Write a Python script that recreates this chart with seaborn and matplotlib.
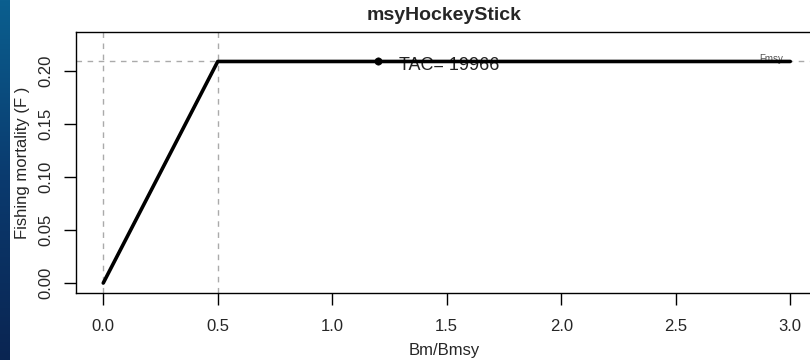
import numpy as np
import pandas as pd
import matplotlib
matplotlib.use("Agg")
import matplotlib.pyplot as plt
import seaborn as sns
from matplotlib.colors import LinearSegmentedColormap

# Data
bm_ratio = [0.0, 0.5, 3.0]
fishing_f = [0.0, 0.209, 0.209]
fmsy = 0.209
blim = 0.5
tac_point_x = [1.2]
tac_point_y = [0.209]
tac_label = "TAC= 19966"
xticks = [0.0, 0.5, 1.0, 1.5, 2.0, 2.5, 3.0]
yticks = [0.00, 0.05, 0.10, 0.15, 0.20]

sns.set_theme(style="white")
plt.rcParams['font.family'] = ['Liberation Sans', 'DejaVu Sans']

fig = plt.figure(figsize=(8.1, 3.6), dpi=100)
fig.patch.set_facecolor("white")

# Blue slide strip on left
bg = fig.add_axes([0, 0, 10/810, 1])
grad = np.linspace(0, 1, 256).reshape(-1, 1)
cmap = LinearSegmentedColormap.from_list("b", ["#0b5f8f", "#0a3a6e", "#0a2552"])
bg.imshow(grad, aspect="auto", cmap=cmap, extent=[0, 1, 0, 1])
bg.axis("off")

ax = fig.add_axes([76/810, 1 - 293/360, 736/810, (293 - 32)/360])
ax.set_facecolor("white")

df = pd.DataFrame({"x": bm_ratio, "F": fishing_f})
ax.axhline(fmsy, color="#aaaaaa", lw=1, ls=(0, (4, 4)), zorder=1)
ax.axvline(0.0, color="#aaaaaa", lw=1, ls=(0, (4, 4)), zorder=1)
ax.axvline(blim, color="#aaaaaa", lw=1, ls=(0, (4, 4)), zorder=1)
sns.lineplot(data=df, x="x", y="F", ax=ax, color="black", lw=2.6, zorder=3)
sns.scatterplot(x=tac_point_x, y=tac_point_y, ax=ax, color="black", s=28,
                edgecolor="black", zorder=4)
ax.text(tac_point_x[0] + 0.09, tac_point_y[0] - 0.004, tac_label, fontsize=13,
        color="#222222", ha="left", va="center", zorder=2)
ax.text(2.97, fmsy - 0.002, "Fmsy", fontsize=7, color="#555555",
        ha="right", va="bottom", zorder=2)

ax.set_xlim(-0.119, 3.095)
ax.set_ylim(-0.0094, 0.2368)
ax.set_xticks(xticks)
ax.set_xticklabels([f"{v:.1f}" for v in xticks], fontsize=12)
ax.set_yticks(yticks)
ax.set_yticklabels([f"{v:.2f}" for v in yticks], fontsize=12, rotation=90, va="center")
ax.tick_params(axis="x", direction="out", length=8.5, width=1, color="black",
               pad=10, bottom=True)
ax.tick_params(axis="y", direction="out", length=8.5, width=1, color="black",
               pad=8, left=True)
for s in ax.spines.values():
    s.set_color("black")
    s.set_linewidth(1)
ax.set_xlabel("Bm/Bmsy", fontsize=12, labelpad=7)
ax.set_ylabel("Fishing mortality (F )", fontsize=12, labelpad=6)
ax.set_title("msyHockeyStick", fontsize=14, fontweight="bold", pad=9)

fig.savefig("out.png", dpi=100)
